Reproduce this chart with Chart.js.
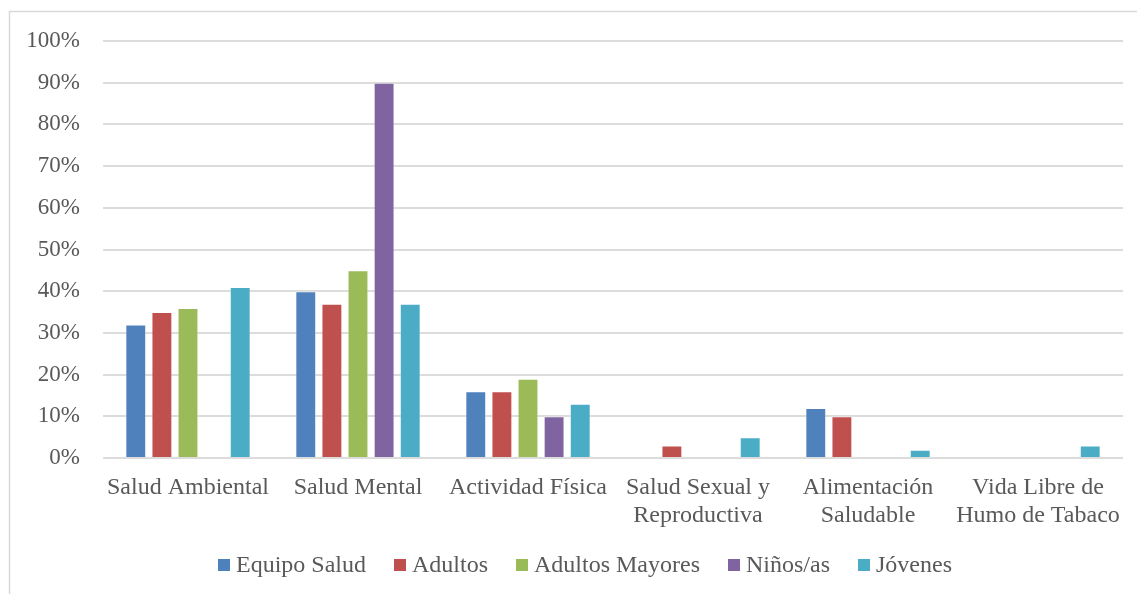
<!DOCTYPE html>
<html>
<head>
<meta charset="utf-8">
<script src="https://cdn.jsdelivr.net/npm/chart.js@4/dist/chart.umd.min.js"></script>
<style>
  html, body { margin: 0; padding: 0; background: #ffffff; }
  #wrap { position: relative; width: 1137px; height: 594px; }
</style>
</head>
<body>
<div id="wrap"><canvas id="chart" width="1137" height="594"></canvas></div>
<script>
// Categories (two-line labels where the axis wraps them)
const categories = [
  "Salud Ambiental",
  "Salud Mental",
  "Actividad Física",
  ["Salud Sexual y", "Reproductiva"],
  ["Alimentación", "Saludable"],
  ["Vida Libre de", "Humo de Tabaco"]
];

// Share of mentions per group, in percent
const equipoSalud     = [32, 40, 16, 0, 12, 0];
const adultos         = [35, 37, 16, 3, 10, 0];
const adultosMayores  = [36, 45, 19, 0, 0, 0];
const ninos           = [0, 90, 10, 0, 0, 0];
const jovenes         = [41, 37, 13, 5, 2, 3];

const seriesNames  = ["Equipo Salud", "Adultos", "Adultos Mayores", "Niños/as", "Jóvenes"];
const seriesColors = ["#4f81bd", "#c0504d", "#9bbb59", "#8064a2", "#4bacc6"];
const seriesData   = [equipoSalud, adultos, adultosMayores, ninos, jovenes];

// Y axis: 0% .. 100% in steps of 10%
const yMin = 0, yMax = 100, yStep = 10;
const yTickLabel = v => v + "%";

const FONT = "'Liberation Serif', 'Times New Roman', serif";
const TEXT = "#595959";

// Outer frame (left and top edges)
const framePlugin = {
  id: "frame",
  beforeDraw(chart) {
    const ctx = chart.ctx;
    ctx.save();
    ctx.fillStyle = "#ffffff";
    ctx.fillRect(0, 0, chart.width, chart.height);
    ctx.strokeStyle = "#d9d9d9";
    ctx.lineWidth = 1.5;
    ctx.beginPath();
    ctx.moveTo(9.5, chart.height);
    ctx.lineTo(9.5, 11.5);
    ctx.lineTo(chart.width, 11.5);
    ctx.stroke();
    ctx.restore();
  }
};

// Legend row: square swatch followed closely by the series name
const legendPlugin = {
  id: "compactLegend",
  afterDraw(chart) {
    const ctx = chart.ctx;
    const fontSize = 24;
    const boxSize = 12, boxGap = 6, itemGap = 28;
    const centerX = 585, centerY = 565, baseline = 572;
    ctx.save();
    ctx.font = fontSize + "px " + FONT;
    const widths = seriesNames.map(n => ctx.measureText(n).width);
    let total = 0;
    widths.forEach((w, i) => { total += boxSize + boxGap + w + (i < widths.length - 1 ? itemGap : 0); });
    let x = centerX - total / 2;
    chart.data.datasets.forEach((ds, i) => {
      ctx.fillStyle = ds.backgroundColor;
      ctx.fillRect(Math.round(x), centerY - boxSize / 2, boxSize, boxSize);
      x += boxSize + boxGap;
      ctx.fillStyle = TEXT;
      ctx.textBaseline = "alphabetic";
      ctx.textAlign = "left";
      ctx.fillText(ds.label, x, baseline);
      x += widths[i] + itemGap;
    });
    ctx.restore();
  }
};

new Chart(document.getElementById("chart"), {
  type: "bar",
  data: {
    labels: categories,
    datasets: seriesNames.map((name, i) => ({
      label: name,
      data: seriesData[i],
      backgroundColor: seriesColors[i],
      borderColor: "rgba(255,255,255,0.3)",
      borderWidth: 1,
      categoryPercentage: 0.768,
      barPercentage: 0.8
    }))
  },
  options: {
    responsive: false,
    animation: false,
    layout: { padding: { left: 0, right: 14, top: 41, bottom: 0 } },
    plugins: {
      legend: { display: false },
      tooltip: { enabled: false }
    },
    scales: {
      x: {
        grid: { display: false, drawTicks: false },
        border: { display: false },
        ticks: {
          color: TEXT,
          font: { family: FONT, size: 24, lineHeight: 1.17 },
          padding: 16,
          maxRotation: 0,
          autoSkip: false
        },
        afterFit(scale) { scale.height = 136; }
      },
      y: {
        min: yMin,
        max: yMax,
        grid: { color: "#dcdcdc", lineWidth: 2, drawTicks: false },
        border: { display: false },
        ticks: {
          stepSize: yStep,
          color: TEXT,
          font: { family: FONT, size: 23 },
          padding: 23,
          callback: v => yTickLabel(v)
        },
        afterFit(scale) { scale.width = 103; }
      }
    }
  },
  plugins: [framePlugin, legendPlugin]
});
</script>
</body>
</html>
